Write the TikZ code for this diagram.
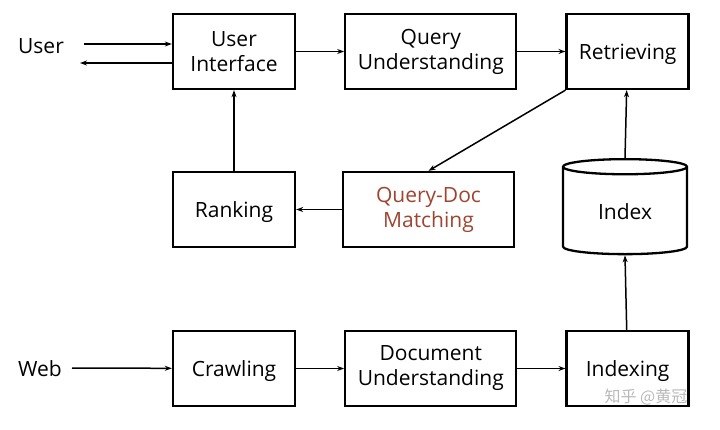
\documentclass[tikz,border=0pt]{standalone}
\usepackage{fontspec}
\setmainfont{Open Sans}
\newfontfamily\cjk{Noto Sans CJK SC}
\usetikzlibrary{positioning,chains,shapes.geometric,arrows.meta}
\definecolor{mybrown}{RGB}{160,68,48}

\begin{document}
\begin{tikzpicture}[x=1pt,y=-1pt,
  font=\fontsize{21}{25}\selectfont,
  box/.style={draw,line width=2.3pt,minimum height=75pt,align=center,inner sep=0pt},
  sbox/.style={box,minimum width=122pt,text depth=0pt},
  wbox/.style={box,minimum width=171pt},
  every edge/.style={draw,line width=1.5pt},
  >={Stealth[length=7pt,width=5pt]}
]
\useasboundingbox (0,0) rectangle (720,429);

% the top row
\begin{scope}[start chain=going right,node distance=48pt]
  \node[box,minimum width=122pt,on chain] (ui) at (234,51.5) {User\\Interface};
  \node[wbox,on chain] (qu) {Query\\Understanding};
  \node[sbox,on chain] (ret) {Retrieving};
\end{scope}

% the middle row
\node[sbox] (rank) at (234,209.5) {Ranking};
\node[wbox,text=mybrown] (qdm) at (428.5,209.5) {Query-Doc\\Matching};
\node[draw,line width=2.3pt,cylinder,shape border rotate=90,aspect=0.28,
  minimum width=124pt,minimum height=95pt,inner sep=0pt] (idx) at (625,211) {\raisebox{-8.5pt}[0pt][0pt]{Index}};

% the bottom row
\begin{scope}[start chain=going right,node distance=48pt]
  \node[sbox,on chain] (crawl) at (234,368.5) {Crawling};
  \node[wbox,on chain] (du) {Document\\Understanding};
  \node[sbox,on chain] (idxing) {Indexing};
\end{scope}

% the outer ends
\node (user) at (41,46) {User};
\node (web) at (40,369) {Web};
\coordinate (uin) at (84,44);
\coordinate (uout) at (80,63);
\coordinate (win) at (72,368);

% the edges
\path[->] (uin) edge (ui.west |- uin)
  (ui.west |- uout) edge (uout)
  (ui) edge (qu)
  (qu) edge (ret)
  (rank) edge (ui)
  (ret.south west) edge (qdm.north)
  (qdm) edge (rank)
  (idx.top) edge (ret)
  (idxing) edge (idx.bottom)
  (win) edge (crawl)
  (crawl) edge (du)
  (du) edge (idxing);

% the watermark
\node[text=gray!55,font=\cjk\fontsize{16}{18}\selectfont] (mark) at (646,397) {知乎 @黄冠};
\end{tikzpicture}
\end{document}
